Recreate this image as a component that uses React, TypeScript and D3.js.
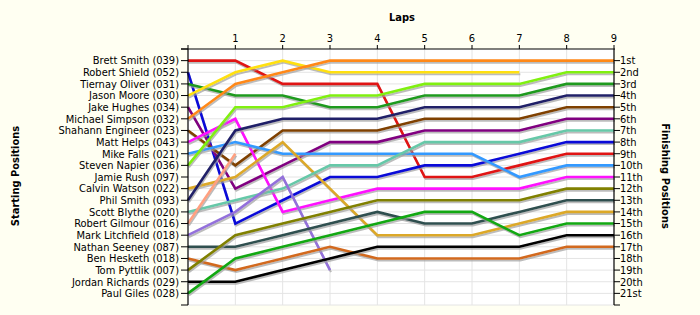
import React from "react";
import * as d3 from "d3";

const startingNames = [
  "Brett Smith (039)", "Robert Shield (052)", "Tiernay Oliver (031)", "Jason Moore (030)",
  "Jake Hughes (034)", "Michael Simpson (032)", "Shahann Engineer (023)", "Matt Helps (043)",
  "Mike Falls (021)", "Steven Napier (036)", "Jamie Rush (097)", "Calvin Watson (022)",
  "Phil Smith (093)", "Scott Blythe (020)", "Robert Gilmour (016)", "Mark Litchfield (018)",
  "Nathan Seeney (087)", "Ben Hesketh (018)", "Tom Pyttlik (007)", "Jordan Richards (029)",
  "Paul Giles (028)",
];
const finishingLabels = [
  "1st", "2nd", "3rd", "4th", "5th", "6th", "7th", "8th", "9th", "10th", "11th",
  "12th", "13th", "14th", "15th", "16th", "17th", "18th", "19th", "20th", "21st",
];
const lapTicks = [1, 2, 3, 4, 5, 6, 7, 8, 9];

// positions per lap (lap 0 = start)
const brettSmith = [1, 1, 3, 3, 3, 11, 11, 10, 9, 9];
const robertShield = [2, 15, 13, 11, 11, 10, 10, 9, 8, 8];
const tiernayOliver = [3, 4, 4, 5, 5, 4, 4, 4, 3, 3];
const jasonMoore = [4, 2, 1, 2, 2, 2, 2, 2];
const jakeHughes = [5, 12, 10, 8, 8, 7, 7, 7, 6, 6];
const michaelSimpson = [6, 3, 2, 1, 1, 1, 1, 1, 1, 1];
const shahannEngineer = [7, 10, 7, 7, 7, 6, 6, 6, 5, 5];
const mattHelps = [8, 6, 14, 13, 12, 12, 12, 12, 11, 11];
const mikeFalls = [9, 8, 9, 9, 9, 9, 9, 11, 10, 10];
const stevenNapier = [10, 5, 5, 4, 4, 3, 3, 3, 2, 2];
const jamieRush: number[] = [];
const calvinWatson = [12, 11, 8, 12, 16, 16, 16, 15, 14, 14];
const philSmith = [13, 7, 6, 6, 6, 5, 5, 5, 4, 4];
const scottBlythe = [14, 13, 12, 10, 10, 8, 8, 8, 7, 7];
const robertGilmour = [15, 9];
const markLitchfield = [16, 14, 11, 19];
const nathanSeeney = [17, 17, 16, 15, 14, 15, 15, 14, 13, 13];
const benHesketh = [18, 19, 18, 17, 18, 18, 18, 18, 17, 17];
const tomPyttlik = [19, 16, 15, 14, 13, 13, 13, 13, 12, 12];
const jordanRichards = [20, 20, 19, 18, 17, 17, 17, 17, 16, 16];
const paulGiles = [21, 18, 17, 16, 15, 14, 14, 16, 15, 15];

const seriesPositions = [
  brettSmith, robertShield, tiernayOliver, jasonMoore, jakeHughes, michaelSimpson,
  shahannEngineer, mattHelps, mikeFalls, stevenNapier, jamieRush, calvinWatson,
  philSmith, scottBlythe, robertGilmour, markLitchfield, nathanSeeney, benHesketh,
  tomPyttlik, jordanRichards, paulGiles,
];
const seriesColors = [
  "#e01414", "#0a0ad8", "#1e9a1e", "#ffe010", "#800080", "#ff8818",
  "#7f4000", "#ff10ff", "#3399ff", "#80f010", "#999999", "#dca828",
  "#202068", "#66c8a8", "#ffa080", "#9370db", "#2f4f4f", "#d2691e",
  "#808000", "#000000", "#12a812",
];

const W = 700, H = 315;
const FONT = "'DejaVu Sans Condensed', 'DejaVu Sans', sans-serif";

export default function App() {
  const x = d3.scaleLinear().domain([0, 9]).range([188, 614]);
  const y = d3.scaleLinear().domain([0, 22]).range([49, 305]);
  const line = d3.line<number>().x((_, i) => x(i)).y((d) => y(d));
  const positions = d3.range(1, 22);
  const allTicks = d3.range(0, 23);

  return (
    <svg width={W} height={H} style={{ position: "absolute", left: 0, top: 0, background: "#fffff2" }}
      fontFamily={FONT}>
      <rect x={0} y={0} width={W} height={H} fill="#fffff2" />
      <rect x={x(0)} y={y(0)} width={x(9) - x(0)} height={y(22) - y(0)} fill="#ffffff" />
      {/* gridlines */}
      {positions.map((p) => (
        <line key={"h" + p} x1={x(0)} x2={x(9)} y1={y(p)} y2={y(p)} stroke="#e4e4e4" strokeWidth={1} />
      ))}
      <line x1={x(0)} x2={x(9)} y1={y(22)} y2={y(22)} stroke="#e4e4e4" strokeWidth={1} />
      {lapTicks.slice(0, 8).map((l) => (
        <line key={"v" + l} x1={x(l)} x2={x(l)} y1={y(0)} y2={y(22)} stroke="#e4e4e4" strokeWidth={1} />
      ))}
      {/* series */}
      {seriesPositions.map((s, i) =>
        s.length > 1 ? (
          <g key={"s" + i}>
            <path d={line(s) || ""} transform="translate(1,2)" fill="none" stroke="#a0a0a0" strokeWidth={2}
              strokeOpacity={0.7} strokeLinejoin="miter" />
            <path d={line(s) || ""} fill="none" stroke={seriesColors[i]} strokeWidth={2.6} strokeLinejoin="miter" />
          </g>
        ) : null
      )}
      {/* top axis */}
      <line x1={x(0) - 7} x2={x(9) + 1} y1={y(0)} y2={y(0)} stroke="#000" strokeWidth={1.2} />
      {[0, ...lapTicks].map((l) => (
        <line key={"tt" + l} x1={x(l)} x2={x(l)} y1={y(0)} y2={y(0) - 4} stroke="#000" strokeWidth={1} />
      ))}
      {lapTicks.map((l) => (
        <text key={"tl" + l} x={x(l)} y={y(0) - 7} fontSize={11} textAnchor="middle" fill="#000">{l}</text>
      ))}
      {/* left axis */}
      <line x1={x(0)} x2={x(0)} y1={y(0)} y2={y(22)} stroke="#000" strokeWidth={1.2} />
      {allTicks.map((p) => (
        <line key={"lt" + p} x1={x(0) - 7} x2={x(0)} y1={y(p)} y2={y(p)} stroke="#000" strokeWidth={1} />
      ))}
      {positions.map((p) => (
        <text key={"ll" + p} x={x(0) - 9} y={y(p)} dy="0.35em" fontSize={11} textAnchor="end" fill="#000">
          {startingNames[p - 1]}
        </text>
      ))}
      {/* right axis */}
      <line x1={x(9)} x2={x(9)} y1={y(0)} y2={y(22)} stroke="#000" strokeWidth={1.2} />
      {allTicks.slice(1).map((p) => (
        <line key={"rt" + p} x1={x(9)} x2={x(9) + 6} y1={y(p)} y2={y(p)} stroke="#000" strokeWidth={1} />
      ))}
      {positions.map((p) => (
        <text key={"rl" + p} x={x(9) + 6} y={y(p)} dy="0.35em" fontSize={11} textAnchor="start" fill="#000">
          {finishingLabels[p - 1]}
        </text>
      ))}
      {/* titles */}
      <text x={402} y={21} fontSize={11} fontWeight="bold" textAnchor="middle">Laps</text>
      <text transform={`translate(19,176) rotate(-90)`} fontSize={11} fontWeight="bold" textAnchor="middle">
        Starting Positions
      </text>
      <text transform={`translate(662,176) rotate(90)`} fontSize={11} fontWeight="bold" textAnchor="middle">
        Finishing Positions
      </text>
    </svg>
  );
}
